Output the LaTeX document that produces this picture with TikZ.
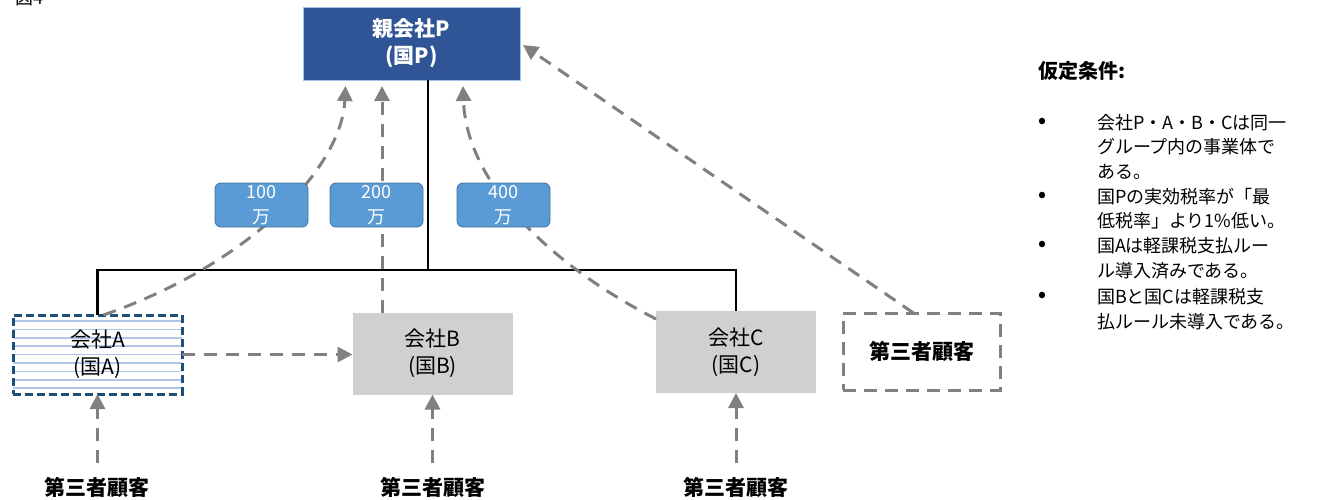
\documentclass[tikz,border=0pt]{standalone}
\usepackage{fontspec}
\setmainfont{Noto Sans CJK JP}
\usetikzlibrary{arrows.meta}
\definecolor{pblue}{RGB}{47,85,151}
\definecolor{pedge}{RGB}{157,195,230}
\definecolor{lblue}{RGB}{91,155,213}
\definecolor{ledge}{RGB}{65,113,156}
\definecolor{boxgray}{RGB}{208,208,208}
\definecolor{arrgray}{RGB}{128,128,128}
\definecolor{adark}{RGB}{31,78,121}
\definecolor{stripecol}{RGB}{178,198,236}
\begin{document}
\begin{tikzpicture}[x=1pt,y=-1pt,
  every node/.style={inner sep=0pt,outer sep=0pt},
  fnt/.style={font=\fontsize{21}{27}\selectfont},
  parentbox/.style={fill=pblue,draw=pedge,line width=1pt,text=white,minimum width=217pt,minimum height=73pt,align=center,font=\fontsize{21}{27}\selectfont\bfseries},
  graybox/.style={fill=boxgray,minimum width=160pt,minimum height=82pt,align=center,fnt},
  abox/.style={fill=white,draw=adark,line width=3pt,dash pattern=on 8pt off 4pt,minimum width=169pt,minimum height=79pt,align=center,fnt,
    path picture={\foreach \k in {0,...,8}{\draw[solid,draw=stripecol,line width=1.5pt] ([yshift=-6pt-\k*8.4pt]path picture bounding box.north west) -- ([yshift=-6pt-\k*8.4pt]path picture bounding box.north east);}}},
  tbox/.style={draw=arrgray,line width=3pt,dash pattern=on 13pt off 8pt,minimum width=157pt,minimum height=77pt,font=\fontsize{21}{27}\selectfont\bfseries},
  custlabel/.style={font=\fontsize{21}{27}\selectfont\bfseries},
  amount/.style={fill=lblue,draw=ledge,line width=0.8pt,rounded corners=6pt,minimum width=93pt,minimum height=44pt,text=white,align=center,font=\fontsize{18}{25}\selectfont},
  flow/.style={draw=arrgray,line width=3pt,dash pattern=on 13pt off 9pt,-{Triangle[length=15pt,width=15pt]}},
  tree/.style={draw=black,line width=2.8pt},
  rtext/.style={font=\fontsize{18}{24}\selectfont,anchor=west},
  bul/.style={font=\fontsize{20}{22}\selectfont\bfseries}
]
\useasboundingbox (0,0) rectangle (1326,499);
\node[anchor=base west,font=\fontsize{18}{20}\selectfont] (fig) at (16,4) {図4};

% main boxes
\node[parentbox] (P) at (411.5,43.5) {親会社P\\(国P)};
\node[abox] (A) at (97.5,354.5) {会社A\\(国A)};
\node[graybox] (B) at (432.5,353.5) {会社B\\(国B)};
\node[graybox] (C) at (736,352) {会社C\\(国C)};
\node[tbox] (T) at (921.5,351.5) {第三者顧客};

% bottom customers
\node[custlabel] (cA) at (97.5,487) {第三者顧客};
\node[custlabel] (cB) at (432.5,487) {第三者顧客};
\node[custlabel] (cC) at (736,487) {第三者顧客};

% tree
\coordinate (J) at (428,270);
\draw[tree] (J |- P.south) -- (J);
\draw[tree] (A.north) |- (J) -| (C.north);

% target points below parent
\coordinate (p1) at ([xshift=-66pt,yshift=-6pt]P.south);
\coordinate (p2) at ([xshift=-29.5pt,yshift=-6pt]P.south);
\coordinate (p3) at ([xshift=51.5pt,yshift=-6pt]P.south);

% flows
\draw[flow] ([xshift=6pt]A.north) .. controls (255,262) and (342,165) .. (p1);
\draw[flow] (B.north -| p2) -- (p2);
\draw[flow] ([yshift=-8pt]C.north west) .. controls (545,262) and (466,180) .. (p3);
\draw[flow] ([xshift=-8pt]T.north) -- ([xshift=3pt,yshift=-1.5pt]P.east);
\draw[flow] (A.east) -- (A.east -| B.west);
\draw[flow] ([yshift=14pt]cA.north) -- (A.south);
\draw[flow] ([yshift=14pt]cB.north) -- (B.south);
\draw[flow] ([yshift=14pt]cC.north) -- (C.south);

% amount labels
\node[amount] (L1) at (261.5,205) {100\\万};
\node[amount] (L2) at (376.5,205) {200\\万};
\node[amount] (L3) at (503.5,205) {400\\万};

% assumptions
\node[anchor=west,font=\fontsize{20}{24}\selectfont\bfseries] (hd) at (1038,71) {仮定条件:};
\foreach \i/\yy/\tx in {1/123/{会社P・A・B・Cは同一},2/147/{グループ内の事業体で},3/172/{ある。},4/197/{国Pの実効税率が「最},5/221/{低税率」より1\%低い。},6/246/{国Aは軽課税支払ルー},7/271/{ル導入済みである。},8/297/{国Bと国Cは軽課税支},9/322/{払ルール未導入である。}}
  {\node[rtext] (r\i) at (1097,\yy) {\tx};}
\foreach \j/\yy in {1/123,2/197,3/246,4/297}
  {\node[bul] (b\j) at (1042,\yy) {•};}
\end{tikzpicture}
\end{document}
